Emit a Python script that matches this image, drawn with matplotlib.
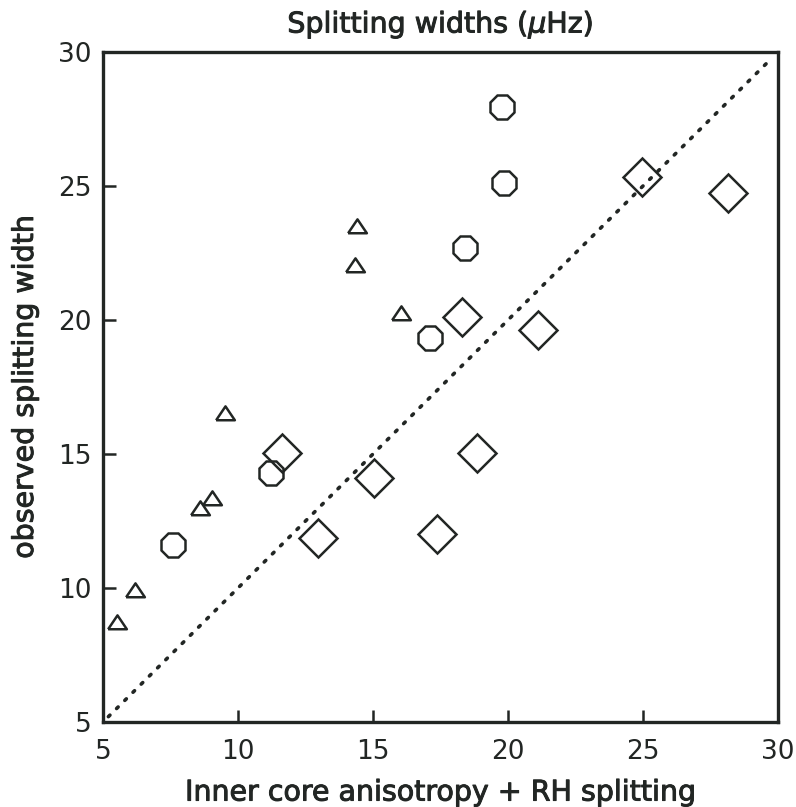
import matplotlib
matplotlib.use("Agg")
import matplotlib.pyplot as plt
import matplotlib.patheffects as pe
import numpy as np

# Data
tri_x = [5.52, 6.19, 8.59, 9.04, 9.52, 14.33, 14.41, 16.02]
tri_y = [8.73, 9.93, 12.99, 13.36, 16.53, 22.05, 23.50, 20.26]

oct_x = [7.59, 11.22, 17.11, 18.41, 19.85, 19.78]
oct_y = [11.60, 14.29, 19.33, 22.69, 25.10, 27.95]

dia_x = [11.62, 12.98, 15.03, 17.37, 18.85, 18.30, 21.11, 24.96, 28.15]
dia_y = [15.03, 11.85, 14.12, 12.00, 15.04, 20.11, 19.63, 25.34, 24.74]

ref_line = [5.2, 29.7]
ticks = [5, 10, 15, 20, 25, 30]

title = r"Splitting widths ($\mu$Hz)"
xlabel = "Inner core anisotropy + RH splitting"
ylabel = "observed splitting width"

ink = "#222624"
plt.rcParams['font.family'] = ['DejaVu Sans']
plt.rcParams['mathtext.fontset'] = 'dejavusans'

fig = plt.figure(figsize=(7.96, 8.07), dpi=100)
ax = fig.add_axes([0.1294, 0.1053, 0.848, 0.8303])

ax.plot(ref_line, ref_line, linestyle=(0, (0.6, 2.6)), color=ink, lw=2.6,
        dash_capstyle='round')

tri_marker = [(-1, -0.72), (1, -0.72), (0, 0.76), (-1, -0.72)]
ax.plot(tri_x, tri_y, linestyle='none', marker=tri_marker, markersize=13.5,
        mfc='none', mec=ink, mew=1.8)
ax.plot(oct_x, oct_y, linestyle='none', marker='8', markersize=19,
        mfc='none', mec=ink, mew=1.8)
ax.plot(dia_x, dia_y, linestyle='none', marker='D', markersize=19,
        mfc='none', mec=ink, mew=1.8)

ax.set_xlim(5, 30)
ax.set_ylim(5, 30)
ax.set_xticks(ticks)
ax.set_yticks(ticks)
ax.set_xticklabels([str(t) for t in ticks])
ax.set_yticklabels([str(t) for t in ticks])
ax.tick_params(direction='in', length=9, width=1.8, color=ink,
               labelsize=19, labelcolor=ink, top=False, right=False)
ax.tick_params(axis='x', pad=12)
ax.tick_params(axis='y', pad=8)
for s in ax.spines.values():
    s.set_linewidth(2.4)
    s.set_color(ink)

heavy = [pe.withStroke(linewidth=0.7, foreground=ink)]
t = ax.set_title(title, fontsize=20.5, color=ink, pad=14)
xl = ax.set_xlabel(xlabel, fontsize=20.5, color=ink, labelpad=10)
yl = ax.set_ylabel(ylabel, fontsize=20.5, color=ink, labelpad=14)
for txt in (t, xl, yl):
    txt.set_path_effects(heavy)

fig.savefig("out.png", dpi=100)
